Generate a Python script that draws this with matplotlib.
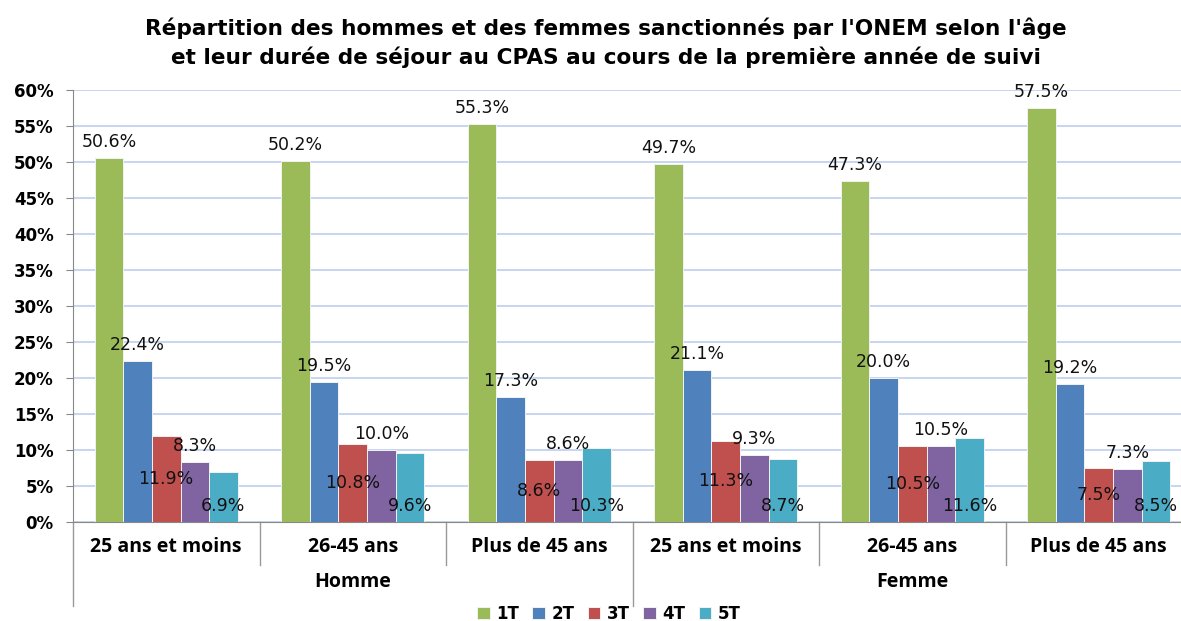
import matplotlib
matplotlib.use("Agg")
import matplotlib.pyplot as plt
import numpy as np

# ---- data ----
groups = ["Homme", "Femme"]
age_labels = ["25 ans et moins", "26-45 ans", "Plus de 45 ans",
              "25 ans et moins", "26-45 ans", "Plus de 45 ans"]
series_names = ["1T", "2T", "3T", "4T", "5T"]
s1T = [50.6, 50.2, 55.3, 49.7, 47.3, 57.5]
s2T = [22.4, 19.5, 17.3, 21.1, 20.0, 19.2]
s3T = [11.9, 10.8, 8.6, 11.3, 10.5, 7.5]
s4T = [8.3, 10.0, 8.6, 9.3, 10.5, 7.3]
s5T = [6.9, 9.6, 10.3, 8.7, 11.6, 8.5]
yticks = [0, 5, 10, 15, 20, 25, 30, 35, 40, 45, 50, 55, 60]
title_lines = ["Répartition des hommes et des femmes sanctionnés par l'ONEM selon l'âge",
               "et leur durée de séjour au CPAS au cours de la première année de suivi"]

series = [s1T, s2T, s3T, s4T, s5T]
colors = ["#9BBB59", "#4F81BD", "#C0504D", "#8064A2", "#4BACC6"]
label_modes = ["above", "above", "center", "above", "base"]

W, H = 1181, 621
fig = plt.figure(figsize=(W / 100, H / 100), dpi=100)
ax_l, ax_r, ax_b, ax_t = 73, 1192, 522, 90
ax = fig.add_axes([ax_l / W, 1 - ax_b / H, (ax_r - ax_l) / W, (ax_b - ax_t) / H])
ax_h_px = ax_b - ax_t

cat_font = "Open Sans"
wide_bold = "DejaVu Sans"
lab_font = "DejaVu Sans"

n = len(age_labels)
x = np.arange(n)
bw = 0.153
bars = []
for i, (vals, c) in enumerate(zip(series, colors)):
    xs = x + (i - 2) * bw
    b = ax.bar(xs, vals, width=bw, color=c, edgecolor="#F2F2F2", linewidth=0.7,
               zorder=3, label=series_names[i])
    bars.append(b)
    for xi, v in zip(xs, vals):
        mode = label_modes[i]
        kw = dict(ha="center", va="center", fontsize=12.5, family=lab_font,
                  color="#111111", zorder=5)
        if mode == "above":
            ax.annotate(f"{v:.1f}%", (xi, v), xytext=(0, 16), textcoords="offset pixels", **kw)
        elif mode == "center":
            ax.text(xi, v / 2, f"{v:.1f}%", **kw)
        else:
            ax.annotate(f"{v:.1f}%", (xi, 0), xytext=(0, 16), textcoords="offset pixels", **kw)

ax.set_xlim(-0.5, n - 0.5)
ax.set_ylim(0, 60)
ax.set_yticks(yticks)
ax.set_yticklabels([f"{t}%" for t in yticks], fontsize=12, fontweight="bold",
                   family=wide_bold)
ax.grid(axis="y", color="#C3D3EE", linewidth=1.3, zorder=0)
ax.set_axisbelow(True)
for s in ["top", "right"]:
    ax.spines[s].set_visible(False)
ax.spines["left"].set_color("#888888")
ax.spines["bottom"].set_color("#888888")
ax.tick_params(axis="y", length=5, color="#888888", pad=9)
ax.set_xticks([])

# two-level category axis
trans = ax.get_xaxis_transform()
inner = 43 / ax_h_px
outer = 84 / ax_h_px
for k in range(n + 1):
    xb = k - 0.5
    depth = outer if k % 3 == 0 else inner
    ax.plot([xb, xb], [0, -depth], transform=trans, color="#999999", lw=1.0,
            clip_on=False, zorder=1)
for xi, lab in zip(x, age_labels):
    ax.text(xi, -25 / ax_h_px, lab, transform=trans, ha="center", va="center",
            fontsize=14, fontweight="bold", family=cat_font)
for gi, g in enumerate(groups):
    ax.text(gi * 3 + 1, -60 / ax_h_px, g, transform=trans, ha="center", va="center",
            fontsize=14, fontweight="bold", family=cat_font)

for ty, line in zip([28, 57], title_lines):
    fig.text(606 / W, 1 - ty / H, line, ha="center", va="center", fontsize=15.6,
             fontweight="bold", family=wide_bold)

fig.legend(handles=bars, labels=series_names, loc="center", ncol=5,
           bbox_to_anchor=(609 / W, 1 - 614 / H), frameon=False,
           prop={"family": wide_bold, "weight": "bold", "size": 12},
           handlelength=0.75, handleheight=0.75, handletextpad=0.4,
           columnspacing=0.8)

fig.savefig("out.png", dpi=100)
